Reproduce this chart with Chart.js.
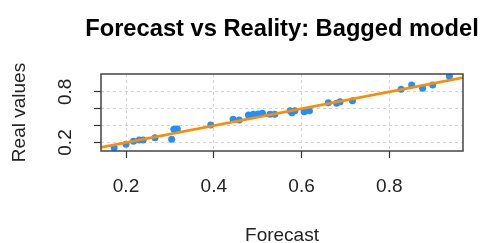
<!DOCTYPE html>
<html>
<head>
<meta charset="utf-8">
<script src="https://cdn.jsdelivr.net/npm/chart.js@4/dist/chart.umd.min.js"></script>
<style>
  body { margin: 0; background: #fff; }
</style>
</head>
<body>
<canvas id="scatterChart" width="484" height="243"></canvas>
<script>
// forecast vs real values
const forecast = [0.173, 0.200, 0.217, 0.230, 0.239, 0.266, 0.304, 0.309, 0.317, 0.393,
  0.444, 0.458, 0.479, 0.490, 0.501, 0.511, 0.528, 0.539, 0.574, 0.578,
  0.585, 0.606, 0.618, 0.661, 0.680, 0.688, 0.716, 0.827, 0.851, 0.876,
  0.899, 0.937];
const realValues = [0.138, 0.179, 0.214, 0.230, 0.230, 0.257, 0.238, 0.356, 0.360, 0.407,
  0.475, 0.466, 0.525, 0.534, 0.537, 0.546, 0.534, 0.534, 0.576, 0.553,
  0.576, 0.564, 0.576, 0.671, 0.664, 0.683, 0.695, 0.830, 0.880, 0.841,
  0.880, 0.985];
// reference line y = x
const lineX = [0, 1.1];
const lineY = [0, 1.1];

const xTicks = [0.2, 0.4, 0.6, 0.8];
const xTickLabels = ['0.2', '0.4', '0.6', '0.8'];
const yTicks = [0.2, 0.4, 0.6, 0.8];
const yTickLabels = ['0.2', '', '', '0.8'];

const titleText = 'Forecast vs Reality: Bagged model';
const font = 'Liberation Sans, Arial, sans-serif';

// title centred on the plot, box around the plot, rotated y tick labels (like R)
const rPlot = {
  id: 'rPlot',
  afterDraw(chart) {
    const ctx = chart.ctx;
    const a = chart.chartArea;
    ctx.save();
    ctx.fillStyle = '#000';
    ctx.font = 'bold 23.7px ' + font;
    ctx.textAlign = 'center';
    ctx.textBaseline = 'alphabetic';
    ctx.fillText(titleText, (a.left + a.right) / 2, 36);

    ctx.strokeStyle = '#444';
    ctx.lineWidth = 1.5;
    ctx.strokeRect(a.left, a.top, a.right - a.left, a.bottom - a.top);

    ctx.fillStyle = '#222';
    ctx.font = '19px ' + font;
    ctx.textBaseline = 'middle';
    yTicks.forEach((v, i) => {
      if (!yTickLabels[i]) return;
      const py = chart.scales.y.getPixelForValue(v);
      ctx.save();
      ctx.translate(65.4, py);
      ctx.rotate(-Math.PI / 2);
      ctx.fillText(yTickLabels[i], 0, 0);
      ctx.restore();
    });
    ctx.restore();
  }
};

const config = {
  type: 'scatter',
  data: {
    datasets: [{
      type: 'line',
      data: lineX.map((x, i) => ({ x: x, y: lineY[i] })),
      borderColor: '#FF8C00',
      borderWidth: 2.6,
      pointRadius: 0,
      clip: 0,
      order: 0
    }, {
      data: forecast.map((x, i) => ({ x: x, y: realValues[i] })),
      backgroundColor: '#1E90FF',
      borderWidth: 0,
      pointRadius: 3.5,
      clip: 0,
      order: 1
    }]
  },
  options: {
    responsive: false,
    animation: false,
    layout: { padding: { left: 0, right: 21, top: 74, bottom: 0 } },
    plugins: {
      legend: { display: false },
      tooltip: { enabled: false },
      title: { display: false }
    },
    scales: {
      x: {
        type: 'linear',
        min: 0.143,
        max: 0.968,
        afterBuildTicks: s => { s.ticks = xTicks.map(v => ({ value: v })); },
        afterFit: s => { s.height = 92; },
        ticks: {
          color: '#222',
          font: { family: font, size: 19 },
          padding: 17.3,
          maxRotation: 0,
          callback: (v) => xTickLabels[xTicks.indexOf(v)]
        },
        grid: {
          color: '#d3d3d3',
          lineWidth: 1,
          tickLength: 7,
          tickColor: '#333',
          tickWidth: 1.2
        },
        border: { display: false, dash: [3, 3] },
        title: {
          display: true,
          text: 'Forecast',
          color: '#222',
          font: { family: font, size: 19, lineHeight: 1 },
          padding: { top: 0, bottom: -2 }
        }
      },
      y: {
        type: 'linear',
        min: 0.0994,
        max: 1.011,
        afterBuildTicks: s => { s.ticks = yTicks.map(v => ({ value: v })); },
        afterFit: s => { s.width = 101; },
        ticks: { display: false },
        grid: {
          color: '#d3d3d3',
          lineWidth: 1,
          tickLength: 7,
          tickColor: '#333',
          tickWidth: 1.2
        },
        border: { display: false, dash: [3, 3] },
        title: {
          display: true,
          text: 'Real values',
          color: '#222',
          font: { family: font, size: 19, lineHeight: 1.2 },
          padding: { top: 8, bottom: 0 }
        }
      }
    }
  },
  plugins: [rPlot]
};

var myChart = new Chart(
  document.getElementById('scatterChart'),
  config
);
</script>
</body>
</html>
